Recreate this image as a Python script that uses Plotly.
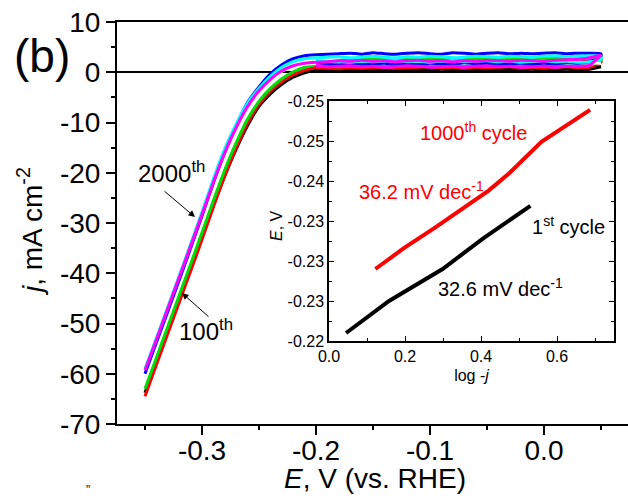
import plotly.graph_objects as go

# ---------------- data ----------------
E_FWD = [-0.35, -0.34, -0.33, -0.32, -0.31, -0.30, -0.29, -0.28, -0.27, -0.26,
         -0.25, -0.24, -0.23, -0.22, -0.21, -0.20, -0.19, -0.18, -0.17, -0.16,
         -0.15, -0.14, -0.13, -0.12, -0.11, -0.10, -0.09, -0.08, -0.07, -0.06,
         -0.05, -0.04, -0.03, -0.02, -0.01, 0.00, 0.01, 0.02, 0.03, 0.04, 0.05]
E_REV = [0.05, 0.04, 0.03, 0.02, 0.01, 0.00, -0.01, -0.02, -0.03, -0.04,
         -0.05, -0.06, -0.07, -0.08, -0.09, -0.10, -0.11, -0.12, -0.13, -0.14,
         -0.15, -0.16, -0.17, -0.18, -0.19, -0.20]

J_BLACK = [-63.8, -57.6, -51.4, -45.2, -39.0, -32.8, -26.5, -20.6, -15.3, -10.6,
           -6.8, -4.3, -2.4, -1.0, -0.1, 0.4,
           0.6, 0.7, 0.8, 0.7, 0.6, 0.8, 0.7, 0.9, 0.8, 0.7, 0.8, 0.9, 0.7, 0.8,
           0.2, 0.9, 0.8, 0.7, 0.9, 0.8, 0.9, 1.0, 0.9, 1.0, 1.1]
J_BLACK_R = [1.1, 0.6, 0.5, 0.6, 0.5, 0.4, 0.6, 0.5, 0.4, 0.5, 0.6, 0.5, 0.4,
             0.5, 0.6, 0.4, 0.5, 0.4, 0.5, 0.3, 0.4, 0.5, 0.3, 0.4, 0.3, 0.4]

J_RED = [-64.5, -58.2, -52.0, -45.8, -39.6, -33.3, -26.8, -20.6, -15.0, -10.1,
         -6.4, -3.8, -1.9, -0.5, 0.4, 1.0,
         1.5, 1.9, 2.2, 2.3, 2.4, 2.3, 2.5, 2.4, 2.6, 2.5, 2.4, 2.6, 2.5, 2.4,
         2.5, 2.6, 2.4, 2.5, 2.6, 2.5, 2.4, 2.5, 2.6, 2.5, 2.4]
J_RED_R = [2.0, 1.0, 0.9, 1.1, 1.0, 0.8, 1.0, 0.9, 1.1, 1.0, 0.9, 1.0, 0.8,
           1.0, 0.9, 1.1, 1.0, 0.9, 0.8, 1.0, 0.9, 0.8, 0.9, 0.7, 0.8, 0.9]

J_GREEN = [-63.0, -56.8, -50.6, -44.4, -38.2, -31.9, -25.5, -19.4, -14.0, -9.3,
           -5.8, -3.2, -1.3, 0.1, 1.0, 1.6,
           2.0, 2.3, 2.5, 2.7, 2.6, 2.8, 2.7, 2.9, 2.8, 2.7, 2.9, 2.8, 2.7, 2.8,
           2.9, 2.7, 2.8, 2.9, 2.7, 2.8, 2.9, 2.8, 2.7, 2.8, 2.7]
J_GREEN_R = [2.4, 1.4, 1.3, 1.5, 1.4, 1.2, 1.4, 1.3, 1.5, 1.3, 1.2, 1.4, 1.3,
             1.5, 1.4, 1.2, 1.3, 1.4, 1.2, 1.3, 1.4, 1.2, 1.3, 1.1, 1.2, 1.3]

J_WHITE = [-59.8, -53.6, -47.4, -41.2, -35.0, -28.7, -22.3, -16.3, -11.2, -6.9,
           -3.8, -1.5, 0.2, 1.2, 1.6, 1.8,
           1.8, 1.9, 1.8, 1.7, 1.9, 1.8, 1.9, 1.8, 1.7, 1.8, 1.9, 1.8, 1.8, 1.7,
           1.9, 1.8, 1.9, 1.8, 1.7, 1.8, 1.9, 1.8, 1.8, 1.9, 1.8]

J_BLUE = [-60.0, -53.8, -47.6, -41.4, -35.0, -28.6, -22.0, -15.9, -10.6, -6.0,
          -2.9, -0.3, 1.5, 2.7, 3.3, 3.5,
          3.6, 3.7, 3.8, 3.6, 3.9, 3.7, 3.6, 3.8, 3.9, 3.7, 3.6, 3.9, 3.8, 3.6,
          3.8, 3.9, 3.7, 3.8, 3.7, 3.8, 3.9, 3.7, 3.8, 3.8, 3.7]
J_BLUE_R = [3.0, 2.1, 1.8, 1.9, 1.7, 1.8, 1.6, 1.8, 1.7, 1.6, 1.8, 1.7, 1.9,
            1.6, 1.7, 1.8, 1.6, 1.7, 1.6, 1.8, 1.7, 1.6, 1.7, 1.5, 1.6, 1.9]

J_CYAN = [-59.0, -52.9, -46.7, -40.5, -34.2, -27.8, -21.2, -15.2, -10.3, -6.1,
          -3.2, -0.8, 1.0, 2.1, 2.7, 2.9,
          3.0, 3.1, 2.9, 3.0, 3.2, 3.0, 2.9, 3.1, 3.0, 3.2, 3.1, 2.9, 3.0, 3.2,
          3.1, 3.0, 3.2, 3.1, 3.0, 3.2, 3.3, 3.1, 3.2, 3.3, 3.2]
J_CYAN_R = [2.6, 2.1, 2.0, 2.2, 2.1, 2.3, 2.2, 2.0, 2.2, 2.1, 2.3, 2.2, 2.1,
            2.3, 2.2, 2.0, 2.2, 2.1, 2.3, 2.2, 2.1, 2.2, 2.0, 2.1, 2.2, 2.4]

J_MAGENTA = [-59.3, -53.2, -47.0, -40.8, -34.6, -28.3, -21.9, -16.0, -11.0, -6.8,
             -3.7, -1.4, 0.3, 1.3, 1.8, 2.0,
             2.1, 2.3, 2.2, 2.4, 2.2, 2.3, 2.1, 2.3, 2.4, 2.2, 2.3, 2.1, 2.3, 2.2,
             2.4, 2.3, 2.2, 2.4, 2.3, 2.2, 2.4, 2.5, 2.6, 2.9, 3.4]
J_MAGENTA_R = [3.4, 1.4, 1.1, 1.2, 1.0, 1.2, 1.1, 1.0, 1.2, 1.1, 1.3, 1.2, 1.0,
               1.2, 1.1, 1.0, 1.2, 1.3, 1.1, 1.0, 1.2, 1.1, 1.3, 1.2, 1.1, 1.4]

# inset (Tafel plot)
TAFEL_1000_X = [0.122, 0.197, 0.280, 0.361, 0.420, 0.475, 0.559, 0.687]
TAFEL_1000_Y = [-0.2290, -0.2316, -0.2342, -0.2368, -0.2388, -0.2410, -0.2449, -0.2489]
TAFEL_1_X = [0.045, 0.158, 0.299, 0.405, 0.530]
TAFEL_1_Y = [-0.2210, -0.2250, -0.2290, -0.2328, -0.2369]

MAIN_XTICKS = [-0.3, -0.2, -0.1, 0.0]
MAIN_XTICKTEXT = ["-0.3", "-0.2", "-0.1", "0.0"]
MAIN_YTICKS = [-70, -60, -50, -40, -30, -20, -10, 0, 10]
MAIN_YTICKTEXT = ["-70", "-60", "-50", "-40", "-30", "-20", "-10", "0", "10"]
INS_XTICKS = [0.0, 0.2, 0.4, 0.6]
INS_XTICKTEXT = ["0.0", "0.2", "0.4", "0.6"]
INS_YTICKS = [-0.25, -0.245, -0.24, -0.235, -0.23, -0.225, -0.22]
INS_YTICKTEXT = ["-0.25", "-0.25", "-0.24", "-0.23", "-0.23", "-0.23", "-0.22"]

# ---------------- layout helpers ----------------
W, H = 628, 499
L, R, T, B = 117, 0, 22, 75
PW, PH = W - L - R, H - T - B
FONT = "Arial, Liberation Sans, sans-serif"


def px(xp, yp):
    return (xp - L) / PW, (H - B - yp) / PH


fig = go.Figure()

series = [
    ("black", J_BLACK, J_BLACK_R),
    ("#ff0000", J_RED, J_RED_R),
    ("#00e000", J_GREEN, J_GREEN_R),
    ("white", J_WHITE, None),
    ("#0000ff", J_BLUE, J_BLUE_R),
    ("#00ffff", J_CYAN, J_CYAN_R),
    ("#ff00ff", J_MAGENTA, J_MAGENTA_R),
]
for color, jf, jr in series:
    xs = list(E_FWD)
    ys = list(jf)
    if jr is not None:
        xs += E_REV
        ys += jr
    fig.add_trace(go.Scatter(x=xs, y=ys, mode="lines",
                             line=dict(color=color, width=3, shape="spline", smoothing=0.4),
                             showlegend=False, xaxis="x", yaxis="y"))

fig.add_trace(go.Scatter(x=TAFEL_1000_X, y=TAFEL_1000_Y, mode="lines",
                         line=dict(color="#ff0000", width=4), showlegend=False,
                         xaxis="x2", yaxis="y2"))
fig.add_trace(go.Scatter(x=TAFEL_1_X, y=TAFEL_1_Y, mode="lines",
                         line=dict(color="black", width=4), showlegend=False,
                         xaxis="x2", yaxis="y2"))

x0d, x1d = px(329, 0)[0], px(614, 0)[0]
y0d, y1d = px(0, 341)[1], px(0, 101)[1]

fig.update_layout(
    width=W, height=H,
    margin=dict(l=L, r=R, t=T, b=B, pad=0),
    paper_bgcolor="white", plot_bgcolor="white",
    font=dict(family=FONT, color="black"),
    xaxis=dict(range=[-0.37456, 0.07368], domain=[0, 1],
               tickvals=MAIN_XTICKS, ticktext=MAIN_XTICKTEXT,
               showline=True, linecolor="black", linewidth=2, mirror=True,
               ticks="outside", ticklen=9, tickwidth=2, tickcolor="black",
               ticklabelstandoff=-9,
               minor=dict(dtick=0.05, tick0=0, ticks="outside", ticklen=4,
                          tickwidth=2, tickcolor="black"),
               showgrid=False, zeroline=False,
               tickfont=dict(size=28, family=FONT)),
    yaxis=dict(range=[-70, 10], domain=[0, 1],
               tickvals=MAIN_YTICKS, ticktext=MAIN_YTICKTEXT,
               showline=True, linecolor="black", linewidth=2, mirror=False,
               ticks="outside", ticklen=9, tickwidth=2, tickcolor="black",
               minor=dict(dtick=5, tick0=0, ticks="outside", ticklen=4,
                          tickwidth=2, tickcolor="black"),
               showgrid=False, zeroline=True, zerolinecolor="black", zerolinewidth=2,
               tickfont=dict(size=28, family=FONT)),
    xaxis2=dict(range=[0, 0.75], domain=[x0d, x1d], anchor="y2",
                tickvals=INS_XTICKS, ticktext=INS_XTICKTEXT,
                showline=True, linecolor="black", linewidth=1.5, mirror="allticks",
                ticks="inside", ticklen=5, tickwidth=1, tickcolor="black",
                minor=dict(dtick=0.1, tick0=0, ticks="inside", ticklen=3,
                           tickwidth=1, tickcolor="black"),
                showgrid=False, zeroline=False,
                tickfont=dict(size=16, family=FONT),
                title=dict(text="log -<i>j</i>", font=dict(size=16, family=FONT), standoff=6)),
    yaxis2=dict(range=[-0.22, -0.25], domain=[y0d, y1d], anchor="x2",
                tickvals=INS_YTICKS, ticktext=INS_YTICKTEXT,
                showline=True, linecolor="black", linewidth=1.5, mirror="allticks",
                ticks="inside", ticklen=5, tickwidth=1, tickcolor="black",
                minor=dict(dtick=0.0025, tick0=0, ticks="inside", ticklen=3,
                           tickwidth=1, tickcolor="black"),
                showgrid=False, zeroline=False,
                tickfont=dict(size=16, family=FONT)),
)

annots = []


def add_text(text, xp, yp, size, color="black", angle=0):
    xx, yy = px(xp, yp)
    annots.append(dict(text=text, x=xx, y=yy, xref="paper", yref="paper",
                       showarrow=False, xanchor="center", yanchor="middle",
                       textangle=angle, font=dict(size=size, color=color, family=FONT)))


def add_arrow(head, tail):
    xx, yy = px(*head)
    annots.append(dict(text="", x=xx, y=yy, xref="paper", yref="paper",
                       showarrow=True, ax=tail[0] - head[0], ay=tail[1] - head[1],
                       arrowhead=2, arrowsize=1.3, arrowwidth=1, arrowcolor="black"))


add_text("(b)", 42, 56, 46)
add_text("<i>j</i>, mA cm<sup>-2</sup>", 30, 232, 28, angle=-90)
add_text("<i>E</i>, V (vs. RHE)", 375, 478, 28)
add_text("2000<sup>th</sup>", 171, 172, 24)
add_text("100<sup>th</sup>", 206, 330, 24)
add_arrow((195, 217), (163, 190))
add_arrow((182, 293), (210, 318))
add_text("1000<sup>th</sup> cycle", 473, 131, 20, color="#ff0000")
add_text("36.2 mV dec<sup>-1</sup>", 421, 190, 20, color="#ff0000")
add_text("1<sup>st</sup> cycle", 568, 225, 20)
add_text("32.6 mV dec<sup>-1</sup>", 500, 287, 20)
add_text("<i>E</i>, V", 276, 226, 16, angle=-90)
add_text('"', 88, 490, 12)

fig.update_layout(annotations=annots)
fig.write_html("out.html")
